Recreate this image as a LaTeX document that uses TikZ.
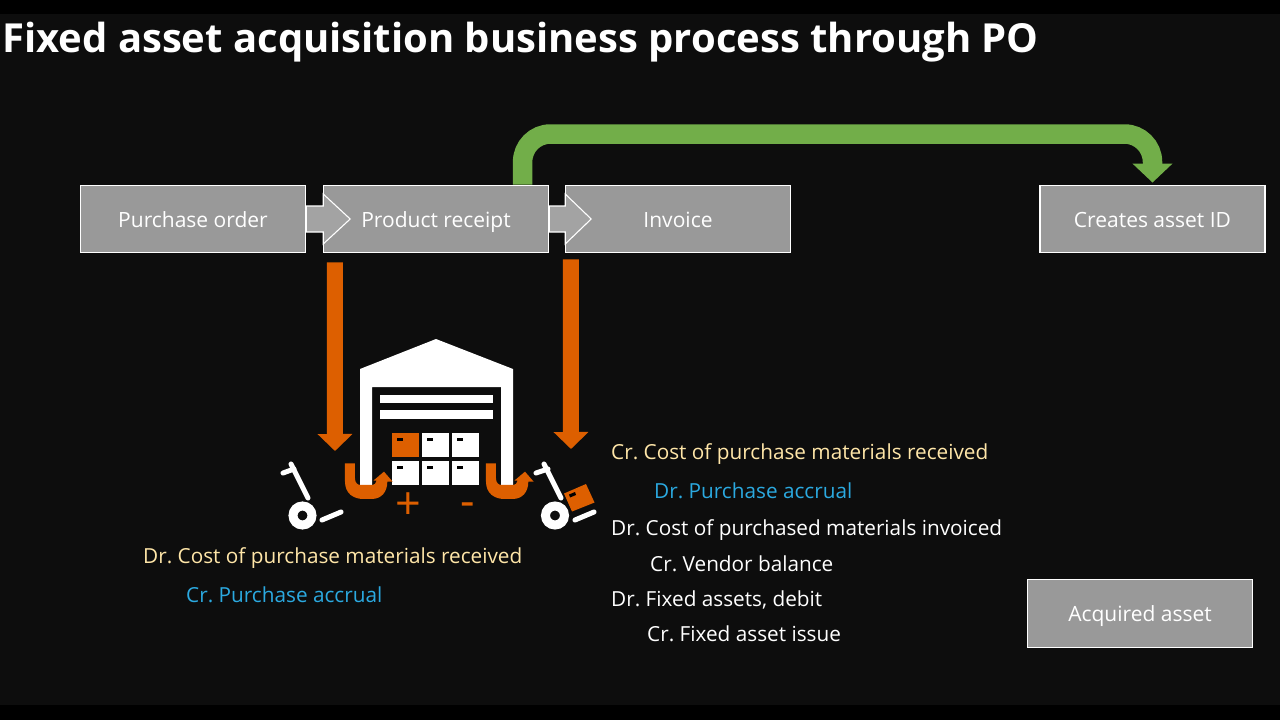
\documentclass[tikz,border=0pt]{standalone}
\usepackage{fontspec}
\setmainfont{Open Sans}
\frenchspacing
\usetikzlibrary{arrows.meta,calc}
\definecolor{bgc}{HTML}{0D0D0D}
\definecolor{boxc}{HTML}{999999}
\definecolor{chevc}{HTML}{A3A3A3}
\definecolor{orc}{HTML}{DD5F00}
\definecolor{grc}{HTML}{72AE49}
\definecolor{yelc}{HTML}{FFE6A8}
\definecolor{cyc}{HTML}{2BA9E0}
\tikzset{
  procbox/.style={draw=white,line width=1.4pt,fill=boxc,text=white,minimum width=225pt,minimum height=67.5pt,inner sep=0pt,text height=19pt,text depth=3pt,font=\fontsize{21}{24}\selectfont},
  chev/.style={draw=white,line width=1.1pt,fill=chevc,line join=miter},
  greenflow/.style={draw=grc,line width=19.5pt,rounded corners=28pt,-{Triangle[length=19pt,width=39pt]}},
  orangeflow/.style={draw=orc,line width=16pt,-{Triangle[length=17pt,width=34pt]}},
  ttext/.style={anchor=west,inner sep=0pt,text height=15pt,text depth=5pt,font=\fontsize{20.75}{24}\selectfont},
  dr/.style={ttext,text=yelc},
  cr/.style={ttext,text=cyc},
  wh/.style={ttext,text=white},
  trolley/.style={draw=white,line width=5pt,line cap=round},
  signtext/.style={text=orc,inner sep=0pt,font=\fontsize{45}{50}\selectfont},
}
\newcommand{\crate}[3]{\fill[#3] (#1,#2) rectangle ++(26.5,24);\fill[black] (#1+4.5,#2+4.5) rectangle ++(6,3.5);}
\newcommand{\uarrow}[1]{%
\begin{scope}[shift={(270+#1,330)},x=0.3333pt,y=-0.3333pt]
\fill[orc] (225,400) -- (225,455) .. controls (225,490) and (250,507) .. (280,507) -- (305,507) .. controls (335,507) and (352,485) .. (352,455) -- (368,455) -- (342,425) -- (310,452) -- (320,452) .. controls (320,460) and (313,465) .. (303,465) -- (272,465) .. controls (262,465) and (255,458) .. (255,445) -- (255,400) -- cycle;
\end{scope}}
\begin{document}
\begin{tikzpicture}[x=1pt,y=-1pt]
\useasboundingbox (0,0) rectangle (1280,720);
\fill[black] (0,0) rectangle (1280,720);
\fill[bgc] (0,14) rectangle (1280,705);
\node[anchor=west,inner sep=0pt,text=white,font=\fontsize{40}{48}\bfseries\selectfont] (title) at (2,42) {Fixed asset acquisition business process through PO};
\node[procbox] (po) at (193,219) {Purchase order};
\node[procbox] (pr) at (436,219) {Product receipt};
\node[procbox] (inv) at (678,219) {Invoice};
\node[procbox] (asset) at (1152.5,219) {Creates asset ID};
\node[procbox] (acq) at (1140,613.5) {Acquired asset};
% chevrons
\draw[chev] (po.east) ++(0,-13) -- ++(17,0) -- ++(0,-12) -- ++(27,25) -- ++(-27,25) -- ++(0,-12) -- ++(-17,0) -- cycle;
\draw[chev] (pr.east) ++(0,-13) -- ++(16,0) -- ++(0,-12) -- ++(26,25) -- ++(-26,25) -- ++(0,-12) -- ++(-16,0) -- cycle;
% green
\coordinate (g1) at ([xshift=-26.5pt]pr.north east);
\coordinate (g2) at (522.5,134);
\coordinate (g3) at (1152.5,134);
\coordinate (g4) at ([yshift=2pt]asset.north);
\draw[greenflow] (g1) -- (g2) -- (g3) -- (g4);
% orange
\coordinate (o1) at ([xshift=12pt,yshift=-9pt]pr.south west);
\coordinate (o2) at (335,451);
\coordinate (o3) at ([xshift=6pt,yshift=-6pt]inv.south west);
\coordinate (o4) at (571,449);
\draw[orangeflow] (o1) -- (o2);
\draw[orangeflow] (o3) -- (o4);
% warehouse
\fill[white] (436,339) -- (513,369) -- (513,485) -- (501,485) -- (501,387) -- (372,387) -- (372,485) -- (360,485) -- (360,369) -- cycle;
\fill[white] (380,395) rectangle (493,403);
\fill[white] (380,410) rectangle (493,418.5);
\crate{392}{433}{orc}
\crate{422}{433}{white}
\crate{452}{433}{white}
\crate{392}{461}{white}
\crate{422}{461}{white}
\crate{452}{461}{white}
% u-turn arrows
\uarrow{0}
\uarrow{141}
\node[signtext] (plus) at (408,506) {+};
\node[signtext] (minus) at (468,510) {-};
% trolleys
\draw[trolley] (283,473) -- (294,469);
\draw[trolley] (291,464) -- (308,498);
\draw[white,line width=9pt] (302.5,515.5) circle[radius=9.5];
\draw[trolley] (322,520) -- (341,512);
\draw[trolley] (536,473) -- (548,469);
\draw[trolley] (544,464) -- (561,498);
\draw[white,line width=9pt] (555,515.5) circle[radius=9.5];
\draw[trolley] (575,520) -- (594,512);
\fill[orc] (564,493.5) -- (586,484) -- (594.5,502.5) -- (572,511.5) -- cycle;
\fill[black] (569,494.5) -- (575,492) -- (576,495) -- (570,497.5) -- cycle;
% texts
\node[dr] (t1) at (143,558) {Dr. Cost of purchase materials received};
\node[cr] (t2) at (186,597) {Cr. Purchase accrual};
\node[dr] (t3) at (611,454) {Cr. Cost of purchase materials received};
\node[cr] (t4) at (654,493) {Dr. Purchase accrual};
\node[wh] (t5) at (611,530) {Dr. Cost of purchased materials invoiced};
\node[wh] (t6) at (650,566) {Cr. Vendor balance};
\node[wh] (t7) at (611,601) {Dr. Fixed assets, debit};
\node[wh] (t8) at (647,636) {Cr. Fixed asset issue};
\end{tikzpicture}
\end{document}
